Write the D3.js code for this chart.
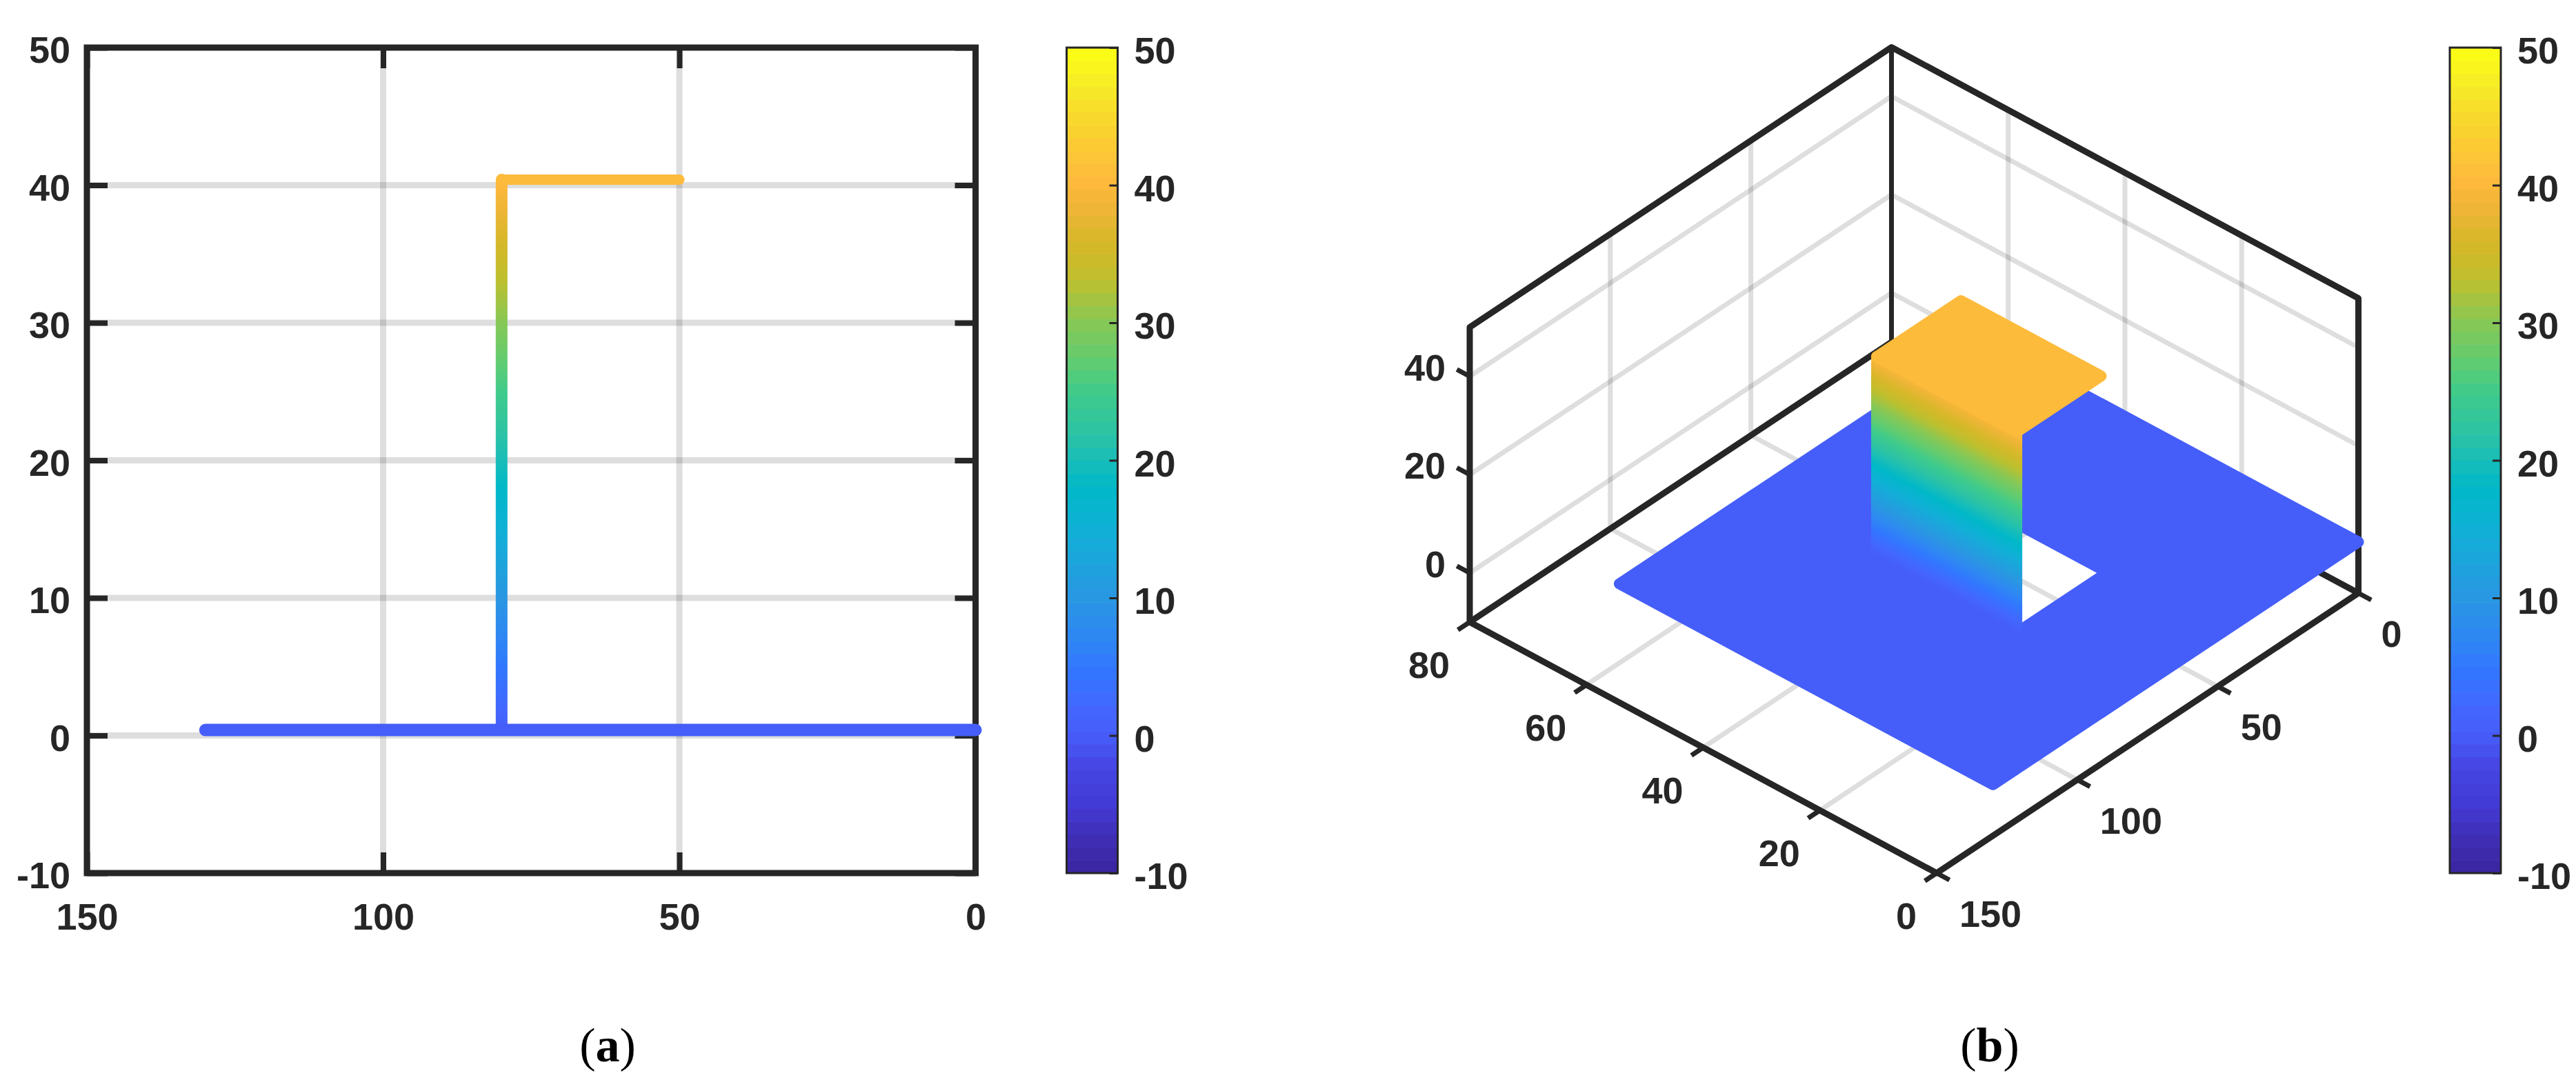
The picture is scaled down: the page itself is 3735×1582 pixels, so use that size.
<!DOCTYPE html>
<html><head><meta charset="utf-8">
<script src="https://cdn.jsdelivr.net/npm/d3@7/dist/d3.min.js"></script>
<style>html,body{margin:0;padding:0;background:#fff}svg{display:block}
text{font-family:"Liberation Sans",Arial,sans-serif;font-weight:bold;fill:#262626}</style>
</head><body><svg id="c" width="3735" height="1582"></svg>
<script>
// ---- data ----
const colorValues = [-10,-8,-5,-2,0,2,5,7,10,15,18,20,22,25,27,30,33,35,36,38,40,42,45,47,50];
const colorHexes  = ["#3a24a0","#3e2cb0","#433ad4","#4647e5","#465cf8","#4367ff","#3177ff","#2f86f4","#2a97e2","#10b0d6","#00b8c8","#18bdb8","#2dc3a4","#40cb8a","#5ecc72","#86c856","#bcc02f","#cfba2a","#d7b82a","#ecb535","#fdb83c","#fdc538","#f9d92c","#f6e927","#fbff14"];
const colorTicks  = [-10,0,10,20,30,40,50];
const xTicksA = [150,100,50,0];
const yTicksA = [-10,0,10,20,30,40,50];
const xGridA  = [100,50];
const yGridA  = [0,10,20,30,40];
const baseX   = [130,0];     // ground trace, x extent
const baseZ   = 0.4;
const stepX   = 80;          // riser position
const topZ    = 40.4;
const topX    = [80,50];     // upper trace, x extent
const xTicksB = [0,50,100,150];
const yTicksB = [0,20,40,60,80];
const zTicksB = [0,20,40];
const xGridB  = [50,100];
const yGridB  = [20,40,60];
const plateX  = [0,130];
const plateY  = [0,64];
const holeX   = [50.8,80];
const holeY   = [20.35,44];
const roofX   = [50,80];
const roofY   = [20,44];
const INK = "#262626", GRID = "#000";
const fmt = d => String(d);

const svg = d3.select("#c");
const color = d3.scaleLinear().domain(colorValues).range(colorHexes);

function addGradient(id, x1,y1,x2,y2, lowClamp){
  const g = svg.append("linearGradient").attr("id",id).attr("gradientUnits","userSpaceOnUse")
    .attr("x1",x1).attr("y1",y1).attr("x2",x2).attr("y2",y2);
  colorValues.forEach((v,i)=>g.append("stop").attr("offset",(v+10)/60)
    .attr("stop-color", lowClamp!=null && v<=lowClamp ? color(lowClamp) : colorHexes[i]));
}

function colorbar(x0){
  const w = 74;
  const y = d3.scaleLinear().domain([-10,50]).range([1266,69]);
  const g = svg.append("g");
  const bands = d3.range(64);
  const vOf = i => -10 + (i+0.5)*60/64;
  g.selectAll("rect.b").data(bands).join("rect").attr("class","b")
    .attr("x",x0).attr("width",w)
    .attr("y",i=>y(-10+(i+1)*60/64)).attr("height",i=>y(-10+i*60/64)-y(-10+(i+1)*60/64)+0.6)
    .attr("fill",i=>color(vOf(i)));
  g.append("rect").attr("x",x0).attr("y",69).attr("width",w).attr("height",1197)
    .attr("fill","none").attr("stroke",INK).attr("stroke-width",3);
  const ax = g.append("g").attr("transform",`translate(${x0+w},0)`)
    .call(d3.axisRight(y).tickValues(colorTicks).tickSize(-12).tickPadding(24).tickFormat(fmt));
  ax.select(".domain").remove();
  ax.selectAll("line").attr("stroke",INK).attr("stroke-width",3);
  ax.selectAll("text").attr("font-size",54).attr("dy","0.42em").attr("fill",INK)
    .style("font-family",'"Liberation Sans"').style("font-weight","bold");
}

// ---- panel (a) ----
(function(){
  const L=126,R=1414.5,T=69,B=1266;
  const x = d3.scaleLinear().domain([150,0]).range([L,R]);
  const y = d3.scaleLinear().domain([-10,50]).range([B,T]);
  const g = svg.append("g");
  g.selectAll("line.gx").data(xGridA).join("line").attr("x1",d=>x(d)).attr("x2",d=>x(d)).attr("y1",T).attr("y2",B)
    .attr("stroke",GRID).attr("stroke-opacity",.13).attr("stroke-width",9);
  g.selectAll("line.gy").data(yGridA).join("line").attr("y1",d=>y(d)).attr("y2",d=>y(d)).attr("x1",L).attr("x2",R)
    .attr("stroke",GRID).attr("stroke-opacity",.13).attr("stroke-width",9);
  const mk = (gen,tr,labels)=>{
    const a = g.append("g").attr("transform",tr).call(gen);
    a.select(".domain").remove();
    a.selectAll("line").attr("stroke",INK).attr("stroke-width",8);
    if(!labels) a.selectAll("text").remove();
    return a;
  };
  const bot = mk(d3.axisBottom(x).tickValues(xTicksA).tickSize(-30).tickPadding(44).tickFormat(fmt),`translate(0,${B})`,true);
  const lef = mk(d3.axisLeft(y).tickValues(yTicksA).tickSize(-30).tickPadding(24).tickFormat(fmt),`translate(${L},0)`,true);
  mk(d3.axisTop(x).tickValues(xTicksA).tickSize(-30),`translate(0,${T})`,false);
  mk(d3.axisRight(y).tickValues(yTicksA).tickSize(-30),`translate(${R},0)`,false);
  bot.selectAll("text").attr("font-size",54).attr("fill",INK).style("font-family",'"Liberation Sans"').style("font-weight","bold");
  lef.selectAll("text").attr("font-size",54).attr("dy","0.4em").attr("fill",INK).style("font-family",'"Liberation Sans"').style("font-weight","bold");
  g.append("rect").attr("x",L).attr("y",T).attr("width",R-L).attr("height",B-T)
    .attr("fill","none").attr("stroke",INK).attr("stroke-width",9);

  addGradient("gradA",0,y(-10),0,y(50));
  g.append("line").attr("x1",x(stepX)).attr("x2",x(stepX)).attr("y1",y(baseZ)).attr("y2",y(topZ))
    .attr("stroke","url(#gradA)").attr("stroke-width",17).attr("stroke-linecap","round");
  g.append("line").attr("x1",x(topX[0])).attr("x2",x(topX[1])).attr("y1",y(topZ)).attr("y2",y(topZ))
    .attr("stroke",color(topZ)).attr("stroke-width",15).attr("stroke-linecap","round");
  g.append("line").attr("x1",x(baseX[0])).attr("x2",x(baseX[1])).attr("y1",y(baseZ)).attr("y2",y(baseZ))
    .attr("stroke",color(baseZ)).attr("stroke-width",18).attr("stroke-linecap","round");
})();
colorbar(1546.5);

// ---- panel (b): axonometric projection built from linear scales ----
(function(){
  const O=[3419.5,860];
  const xSx=d3.scaleLinear().domain([0,150]).range([0,-611.5]);
  const xSy=d3.scaleLinear().domain([0,150]).range([0,406]);
  const ySx=d3.scaleLinear().domain([0,80]).range([0,-677]);
  const ySy=d3.scaleLinear().domain([0,80]).range([0,-364]);
  const zS =d3.scaleLinear().domain([-10,50]).range([0,-427.5]);
  const P=(x,y,z)=>[O[0]+xSx(x)+ySx(y), O[1]+xSy(x)+ySy(y)+zS(z)];
  const line=d3.line();
  const g=svg.append("g");
  const seg=(pts,w,c,op)=>g.append("path").attr("d",line(pts)).attr("fill","none").attr("stroke",c)
      .attr("stroke-width",w).attr("stroke-opacity",op==null?1:op).attr("stroke-linejoin","round");
  const X1=150,Y1=80,Z0=-10,Z1=50;
  // grid
  xGridB.forEach(v=>{ seg([P(v,0,Z0),P(v,Y1,Z0),P(v,Y1,Z1)],7,GRID,.13); });
  yGridB.forEach(v=>{ seg([P(X1,v,Z0),P(0,v,Z0),P(0,v,Z1)],7,GRID,.13); });
  zTicksB.forEach(v=>{ seg([P(X1,Y1,v),P(0,Y1,v),P(0,0,v)],7,GRID,.13); });
  // back frame
  seg([P(X1,Y1,Z0),P(X1,Y1,Z1),P(0,Y1,Z1),P(0,0,Z1),P(0,0,Z0)],9,INK);
  seg([P(0,Y1,Z0),P(0,Y1,Z1)],7,INK);
  seg([P(X1,Y1,Z0),P(0,Y1,Z0),P(0,0,Z0)],9,INK);
  seg([P(X1,Y1,Z0),P(X1,0,Z0),P(0,0,Z0)],9,INK);
  // ticks
  const tk=(a,b)=>seg([a,b],7,INK);
  xTicksB.forEach(v=>tk(P(v,0,Z0),P(v,-2.2,Z0)));
  yTicksB.forEach(v=>tk(P(X1,v,Z0),P(X1+4.2,v,Z0)));
  zTicksB.forEach(v=>tk(P(X1,Y1,v),P(X1,Y1+2.2,v)));
  // labels
  const lab=(s,pt,dx,dy,anchor)=>g.append("text").attr("x",pt[0]+dx).attr("y",pt[1]+dy)
      .attr("font-size",54).attr("text-anchor",anchor).text(s);
  xTicksB.forEach(v=>lab(v,P(v,0,Z0),33,78,"start"));
  yTicksB.forEach(v=>lab(v,P(X1,v,Z0),-29,81,"end"));
  zTicksB.forEach(v=>lab(v,P(X1,Y1,v),-35,6,"end"));
  // plate with hole: the rounded stroke applies to the outer edge only
  const rect=(xs,ys,z)=>[P(xs[0],ys[0],z),P(xs[1],ys[0],z),P(xs[1],ys[1],z),P(xs[0],ys[1],z)];
  const plateC=color(baseZ);
  const outer=rect(plateX,plateY,baseZ), hole=rect(holeX,holeY,baseZ);
  g.append("path").attr("d",line(outer)+"Z"+line(hole)+"Z").attr("fill",plateC).attr("fill-rule","evenodd");
  g.append("path").attr("d",line(outer)+"Z").attr("fill","none").attr("stroke",plateC).attr("stroke-width",16).attr("stroke-linejoin","round");
  // wall: colour runs along z, isolines follow the y direction of the projection
  const n0=P(stepX,32,-10), n1=P(stepX,32,50);
  const dxI=ySx(1), dyI=ySy(1), len=Math.hypot(dxI,dyI);
  const nx=-dyI/len, ny=dxI/len;
  const vx=n1[0]-n0[0], vy=n1[1]-n0[1], d=vx*nx+vy*ny;
  addGradient("gradB",n0[0],n0[1],n0[0]+nx*d,n0[1]+ny*d,baseZ);
  const wall=[P(stepX,roofY[0],baseZ),P(stepX,roofY[1],baseZ),P(stepX,roofY[1],topZ),P(stepX,roofY[0],topZ)];
  g.append("path").attr("d",line(wall)+"Z").attr("fill","url(#gradB)").attr("stroke","url(#gradB)").attr("stroke-width",16).attr("stroke-linejoin","round");
  // roof
  const roof=rect(roofX,roofY,topZ);
  g.append("path").attr("d",line(roof)+"Z").attr("fill",color(topZ)).attr("stroke",color(topZ)).attr("stroke-width",16).attr("stroke-linejoin","round");
})();
colorbar(3552);

// ---- captions ----
[["a",881,1539],["b",2885,1539]].forEach(([s,x,y])=>{
  const t=svg.append("text").attr("x",x).attr("y",y).attr("text-anchor","middle")
    .attr("font-size",70).style("font-family",'"Liberation Serif"').style("font-weight","normal").style("fill","#000");
  t.append("tspan").text("(");
  t.append("tspan").style("font-weight","bold").text(s);
  t.append("tspan").text(")");
});
</script></body></html>
